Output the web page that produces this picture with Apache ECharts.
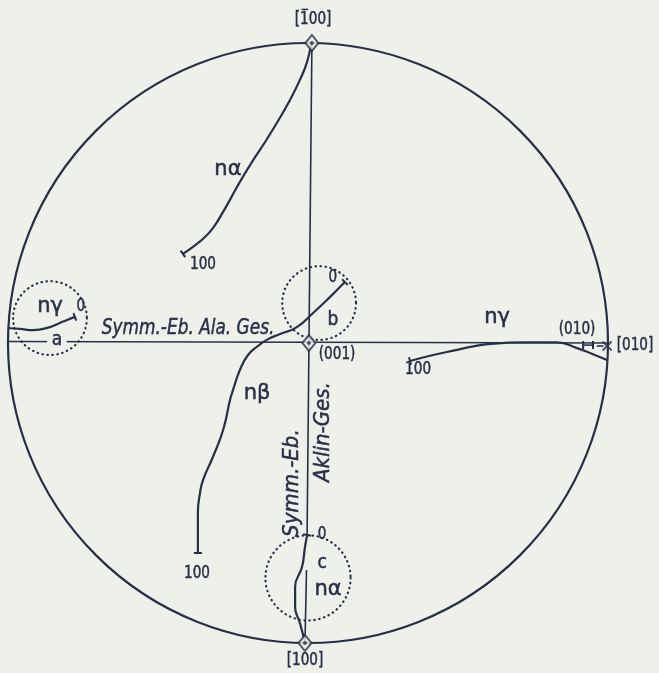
<!DOCTYPE html>
<html>
<head>
<meta charset="utf-8">
<script src="https://cdn.jsdelivr.net/npm/echarts@6.0.0/dist/echarts.min.js"></script>
<style>
  html, body { margin: 0; background: #eef1ea; }
  #main { width: 659px; height: 673px; }
</style>
</head>
<body>
<div id="main"></div>
<script>
// Stereographic projection, unit circle coordinates (centre 0,0 radius 1)
const BG = "#eef1ea";
const INK = "#283049";

// diameters
const horizontal = [[-1, 0.005], [1, 0]];
const verticalUpper = [[0.013, 1], [-0.003, -0.64]];
const verticalLower = [[-0.005, -0.757], [-0.01, -1]];

// migration curves
const alphaUpper = [[0.01, 0.997], [-0.003, 0.937], [-0.027, 0.877], [-0.06, 0.81], [-0.1, 0.74],
  [-0.143, 0.67], [-0.187, 0.603], [-0.227, 0.537], [-0.257, 0.483], [-0.283, 0.437],
  [-0.317, 0.383], [-0.347, 0.35], [-0.38, 0.323], [-0.417, 0.297]];
const beta = [[0.123, 0.203], [0.073, 0.153], [0.017, 0.1], [-0.037, 0.053], [-0.093, 0.03],
  [-0.133, 0.013], [-0.167, -0.01], [-0.2, -0.04], [-0.227, -0.09], [-0.25, -0.157],
  [-0.26, -0.19], [-0.283, -0.29], [-0.317, -0.38], [-0.35, -0.457], [-0.36, -0.5],
  [-0.367, -0.567], [-0.367, -0.7]];
const gammaRight = [[0.34, -0.06], [0.417, -0.04], [0.497, -0.023], [0.547, -0.012], [0.607, -0.003],
  [0.717, 0.002], [0.83, 0.002], [0.897, -0.017], [0.94, -0.033], [0.997, -0.057]];
const gammaA = [[-1, 0.05], [-0.96, 0.047], [-0.917, 0.043], [-0.86, 0.053], [-0.827, 0.067],
  [-0.803, 0.077], [-0.777, 0.087]];
const alphaC = [[-0.003, -0.64], [-0.01, -0.68], [-0.02, -0.747], [-0.043, -0.813], [-0.043, -0.88],
  [-0.027, -0.933], [-0.01, -1]];

// (010) marker
const sideMark = [[0.917, -0.007], [0.95, -0.007]];
const sideDash = [[0.963, -0.01], [0.985, -0.01]];
const crossPoint = [[0.997, -0.01]];

// poles
const poles = [[0.013, 1], [0.003, 0], [-0.01, -1]];

// dotted circles a, b, c: [cx, cy, r]
const rings = [[-0.86, 0.083, 0.123], [0.037, 0.133, 0.123], [0.0, -0.783, 0.142]];

// labels: [text, x, y]
const barLabel = ["[100]", 0.017, 1.077];
const plainLabels = [
  ["[100]", -0.01, -1.057], ["[010]", 1.09, -0.01],
  ["(010)", 0.897, 0.045], ["(001)", 0.097, -0.04],
  ["100", -0.35, 0.26], ["100", -0.37, -0.767], ["100", 0.367, -0.09],
  ["0", -0.757, 0.12], ["0", 0.083, 0.217], ["0", 0.047, -0.64]
];
const letterLabels = [["a", -0.837, 0.01], ["b", 0.083, 0.077], ["c", 0.047, -0.733]];
const greekLabels = [
  ["n\u03b1", -0.267, 0.577], ["n\u03b2", -0.17, -0.167], ["n\u03b3", 0.63, 0.085],
  ["n\u03b3", -0.86, 0.123], ["n\u03b1", 0.067, -0.823]
];
const italicLabels = [["Symm.-Eb. Ala. Ges.", -0.4, 0.05]];
const rotatedLabels = [["Aklin-Ges.", 0.05, -0.297], ["Symm.-Eb.", -0.053, -0.467]];

function endTick(curve, atStart) {
  const a = atStart ? curve[0] : curve[curve.length - 1];
  const b = atStart ? curve[1] : curve[curve.length - 2];
  return [a[0], a[1], b[0], b[1]];
}
const ticks = [
  endTick(alphaUpper, false), endTick(beta, true), endTick(beta, false),
  endTick(gammaRight, true), endTick(gammaA, false), endTick(alphaC, true),
  endTick(sideMark, true), endTick(sideMark, false)
];

const chart = echarts.init(document.getElementById("main"));

function lineSeries(data, width, smooth) {
  return {
    type: "line", data: data, smooth: smooth, symbol: "none", clip: false,
    lineStyle: { color: INK, width: width }, z: 3, silent: true
  };
}

function textStyle(text, size, italic) {
  return {
    text: text, fontSize: size, fontFamily: "DejaVu Sans",
    fontStyle: italic ? "italic" : "normal", fill: INK,
    stroke: INK, lineWidth: 0.5,
    align: "center", verticalAlign: "middle"
  };
}

// lettering is tall and narrow, so squeeze the glyphs along the line of text
function textSeries(list, size, opts) {
  opts = opts || {};
  return {
    type: "custom", silent: true, z: 10,
    data: list.map(l => [l[1], l[2]]),
    renderItem: function (params, api) {
      const item = list[params.dataIndex];
      const p = api.coord([api.value(0), api.value(1)]);
      const style = textStyle(item[0], size, opts.italic);
      if (opts.bg) {
        style.backgroundColor = opts.bg;
        style.padding = [0, 5];
      }
      return {
        type: "text", x: p[0], y: p[1], rotation: opts.rotate ? Math.PI / 2 : 0,
        scaleX: opts.squeeze || 1, style: style
      };
    }
  };
}

const option = {
  backgroundColor: BG,
  animation: false,
  grid: { left: 8, top: 43, width: 600, height: 600 },
  xAxis: { type: "value", min: -1, max: 1, show: false },
  yAxis: { type: "value", min: -1, max: 1, show: false },
  series: [
    // primitive circle
    {
      type: "custom", silent: true, z: 2,
      data: [[0, 0, 1]],
      renderItem: function (params, api) {
        const c = api.coord([api.value(0), api.value(1)]);
        const s = api.size([api.value(2), api.value(2)]);
        return { type: "circle", shape: { cx: c[0], cy: c[1], r: s[0] },
          style: { fill: "none", stroke: INK, lineWidth: 2.2 } };
      }
    },
    // dotted rings
    {
      type: "custom", silent: true, z: 2,
      data: rings,
      renderItem: function (params, api) {
        const c = api.coord([api.value(0), api.value(1)]);
        const s = api.size([api.value(2), api.value(2)]);
        return { type: "circle", shape: { cx: c[0], cy: c[1], r: s[0] },
          style: { fill: "none", stroke: INK, lineWidth: 2.2, lineDash: [0.5, 4.5], lineCap: "round" } };
      }
    },
    lineSeries(horizontal, 1.6, false),
    lineSeries(verticalUpper, 1.6, false),
    lineSeries(verticalLower, 1.6, false),
    lineSeries(alphaUpper, 2.2, 0.5),
    lineSeries(beta, 2.2, 0.5),
    lineSeries(gammaRight, 2.2, 0.5),
    lineSeries(gammaA, 2.2, 0.5),
    lineSeries(alphaC, 2.2, 0.5),
    lineSeries(sideMark, 1.6, false),
    lineSeries(sideDash, 1.6, false),
    // end ticks
    {
      type: "custom", silent: true, z: 4,
      data: ticks,
      renderItem: function (params, api) {
        const p = api.coord([api.value(0), api.value(1)]);
        const q = api.coord([api.value(2), api.value(3)]);
        let dx = p[0] - q[0], dy = p[1] - q[1];
        const len = Math.hypot(dx, dy) || 1;
        dx /= len; dy /= len;
        const h = 4;
        return { type: "line",
          shape: { x1: p[0] - dy * h, y1: p[1] + dx * h, x2: p[0] + dy * h, y2: p[1] - dx * h },
          style: { stroke: INK, lineWidth: 2 } };
      }
    },
    {
      type: "scatter", data: crossPoint, symbol: "path://M0 0L10 10M10 0L0 10", symbolSize: 9,
      itemStyle: { color: "transparent", borderColor: INK, borderWidth: 2 }, clip: false, z: 6, silent: true
    },
    {
      type: "scatter", data: poles, symbol: "diamond", symbolSize: [13, 16],
      itemStyle: { color: BG, borderColor: INK, borderWidth: 2 }, clip: false, z: 6, silent: true
    },
    {
      type: "scatter", data: poles, symbol: "circle", symbolSize: 4,
      itemStyle: { color: INK }, clip: false, z: 7, silent: true
    },
    // [-100] with bar over the 1
    {
      type: "custom", silent: true, z: 10,
      data: [[barLabel[1], barLabel[2]]],
      renderItem: function (params, api) {
        const p = api.coord([api.value(0), api.value(1)]);
        return {
          type: "group", x: p[0], y: p[1],
          children: [
            { type: "text", scaleX: 0.8, style: textStyle(barLabel[0], 17, false) },
            { type: "line", shape: { x1: -11.5, y1: -10.5, x2: -5, y2: -10.5 },
              style: { stroke: INK, lineWidth: 1.5 } }
          ]
        };
      }
    },
    textSeries(plainLabels, 17, { squeeze: 0.8 }),
    textSeries(letterLabels, 19, { squeeze: 0.9, bg: BG }),
    textSeries(greekLabels, 21, {}),
    textSeries(italicLabels, 22, { italic: true, squeeze: 0.77 }),
    textSeries(rotatedLabels, 22, { italic: true, squeeze: 0.9, rotate: true })
  ]
};
chart.setOption(option);
</script>
</body>
</html>
